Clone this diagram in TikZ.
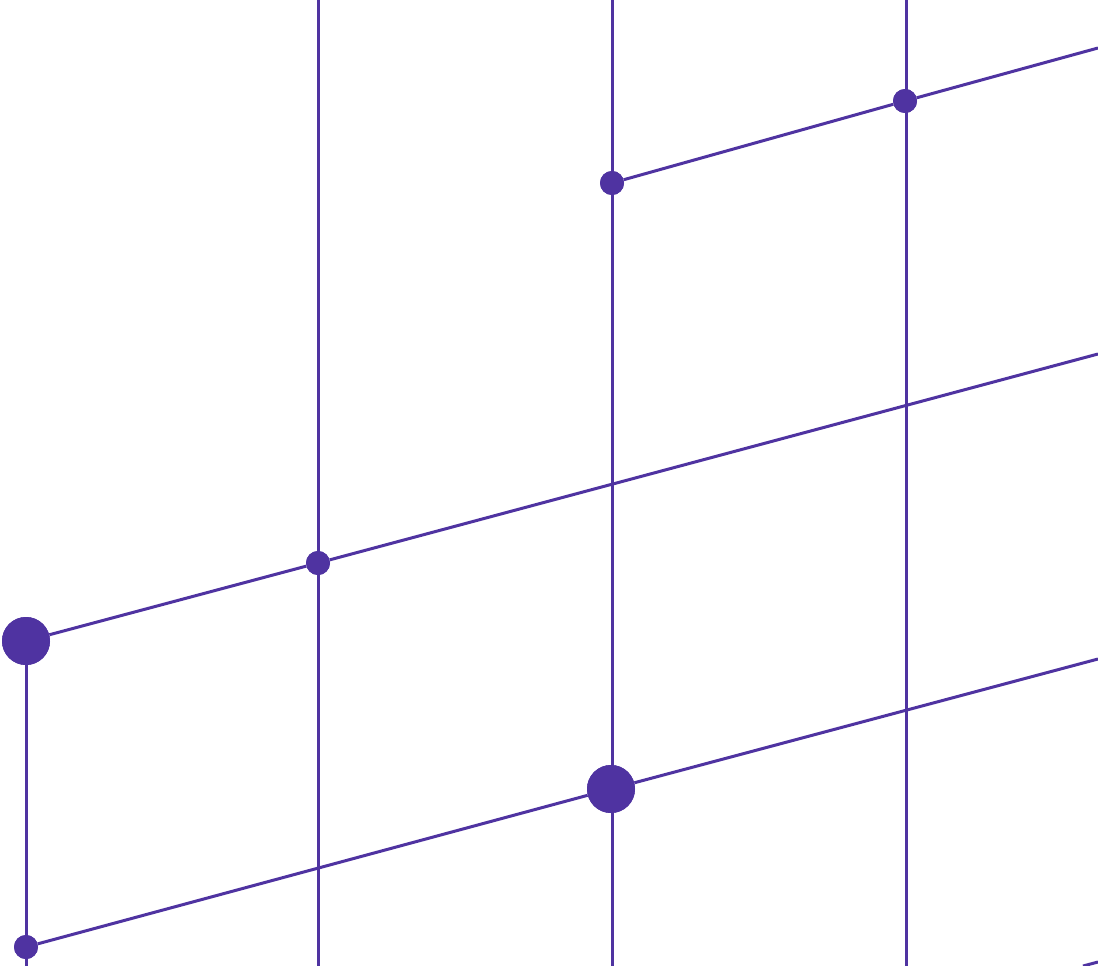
\documentclass[tikz,border=0pt]{standalone}
\usepackage{xcolor}
\definecolor{gridviolet}{RGB}{79,51,161}

\begin{document}
\begin{tikzpicture}[x=1pt, y=-1pt,
    bigdot/.style={circle, fill=gridviolet, inner sep=0pt, minimum size=48pt},
    smalldot/.style={circle, fill=gridviolet, inner sep=0pt, minimum size=24pt},
    gridline/.style={draw=gridviolet, line width=3pt}]
    \useasboundingbox (0,0) rectangle (1098,966);

    % Nodes
    \node [smalldot] (topmid) at (612,183) {};
    \node [smalldot] (topright) at (905,101) {};
    \node [smalldot] (midleft) at (318,563) {};
    \node [bigdot] (cornerleft) at (26,641) {};
    \node [bigdot] (lowmid) at (611,789) {};
    \node [smalldot] (bottomleft) at (26,947) {};

    % Free ends
    \coordinate (colA top) at (318,0);
    \coordinate (colA bot) at (318,966);
    \coordinate (colB top) at (612,0);
    \coordinate (colB bot) at (612,966);
    \coordinate (colC top) at (906,0);
    \coordinate (colC bot) at (906,966);
    \coordinate (colL bot) at (26,966);
    \coordinate (rowA end) at (1098,48);
    \coordinate (rowB end) at (1098,354);
    \coordinate (rowC end) at (1098,659);
    \coordinate (rowD start) at (1083,966);
    \coordinate (rowD end) at (1098,962);

    % Lines
    \draw [gridline] (colA top) -- (colA bot);
    \draw [gridline] (colB top) -- (colB bot);
    \draw [gridline] (colC top) -- (colC bot);
    \draw [gridline] (cornerleft) -- (colL bot);
    \draw [gridline] (topmid) -- (topright) -- (rowA end);
    \draw [gridline] (cornerleft) -- (midleft) -- (rowB end);
    \draw [gridline] (bottomleft) -- (lowmid) -- (rowC end);
    \draw [gridline] (rowD start) -- (rowD end);

    % Dots again on top of the lines
    \fill [gridviolet] (topmid) circle (12pt) (topright) circle (12pt)
        (midleft) circle (12pt) (bottomleft) circle (12pt)
        (cornerleft) circle (24pt) (lowmid) circle (24pt);

\end{tikzpicture}
\end{document}
